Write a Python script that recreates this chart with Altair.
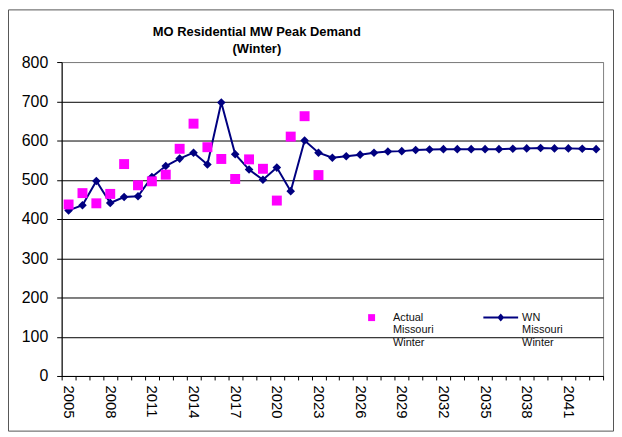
import altair as alt
import pandas as pd

# ---------------- data ----------------
years = [2005, 2006, 2007, 2008, 2009, 2010, 2011, 2012, 2013, 2014,
         2015, 2016, 2017, 2018, 2019, 2020, 2021, 2022, 2023, 2024,
         2025, 2026, 2027, 2028, 2029, 2030, 2031, 2032, 2033, 2034,
         2035, 2036, 2037, 2038, 2039, 2040, 2041, 2042, 2043]

actual_years = [2005, 2006, 2007, 2008, 2009, 2010, 2011, 2012, 2013, 2014,
                2015, 2016, 2017, 2018, 2019, 2020, 2021, 2022, 2023]
actual_values = [437, 466, 440, 464, 540, 486, 496, 513, 579, 643,
                 583, 553, 502, 552, 528, 447, 610, 662, 512]

wn_values = [422, 435, 497, 441, 456, 458, 507, 535, 554, 569,
             539, 697, 565, 526, 500, 531, 471, 600, 569, 556,
             560, 564, 569, 572, 573, 576, 577, 578, 578, 578,
             578, 578, 579, 580, 581, 580, 580, 579, 578]

series_names = ["Actual Missouri Winter", "WN Missouri Winter"]
title_lines = ["MO Residential MW Peak Demand", "(Winter)"]
y_ticks = [0, 100, 200, 300, 400, 500, 600, 700, 800]

df_actual = pd.DataFrame({"year": actual_years, "value": actual_values,
                          "series": series_names[0]})
df_wn = pd.DataFrame({"year": years, "value": wn_values,
                      "series": series_names[1]})
df_all = pd.concat([df_actual, df_wn], ignore_index=True)

FONT = "Liberation Sans"
MAGENTA = "#FF00FF"
NAVY = "#000080"

x_enc = alt.X(
    "year:O",
    sort=years,
    scale=alt.Scale(type="band", domain=years, paddingInner=0, paddingOuter=0),
    axis=alt.Axis(
        title=None, labelAngle=90, labelFontSize=15, labelFont=FONT,
        labelColor="black", labelPadding=5, labelOverlap=False,
        labelExpr="(datum.value - 2005) % 3 == 0 ? datum.label : ''",
        tickBand="extent", tickSize=4, tickColor="black",
        domainColor="black", grid=False,
    ),
)
y_enc = alt.Y(
    "value:Q",
    scale=alt.Scale(domain=[0, 800], nice=False),
    axis=alt.Axis(
        title=None, values=y_ticks, grid=True,
        gridColor={"condition": {"test": "datum.value == 800", "value": "#808080"},
                   "value": "black"},
        gridWidth=1, tickSize=5, tickColor="black", domainColor="black",
        labelFontSize=16, labelFont=FONT, labelColor="black", labelPadding=9,
    ),
)

# legend symbols (custom paths)
sq_path = "M-0.2,-0.2L0.2,-0.2L0.2,0.2L-0.2,0.2Z"
wn_path = ("M-1,-0.057L1,-0.057L1,0.057L-1,0.057Z"
           "M0,-0.23L0.2,0L0,0.23L-0.2,0Z")

frame = alt.Chart(alt.Data(values=[{"f": 1}])).mark_rect(
    fill=None, stroke="#555555", strokeWidth=1
).encode(
    x=alt.value(-53.5), x2=alt.value(555.5),
    y=alt.value(-52.5), y2=alt.value(371.5),
)

wn_line = alt.Chart(df_wn).mark_line(color=NAVY, strokeWidth=2).encode(
    x=x_enc, y=y_enc
)
wn_pts = alt.Chart(df_wn).mark_point(
    shape="diamond", filled=True, size=75, color=NAVY, opacity=1
).encode(x=x_enc, y=y_enc)
act_pts = alt.Chart(df_actual).mark_point(
    shape="square", filled=True, size=100, color=MAGENTA, opacity=1
).encode(x=x_enc, y=y_enc)

legend_spec = dict(
    title=None, orient="none", legendX=294.5, legendY=239.5,
    direction="horizontal", columns=2, columnPadding=50,
    labelExpr="split(datum.label, ' ')", labelFontSize=11,
    labelFont=FONT, labelColor="#111111", labelOffset=4,
    symbolOpacity=1, symbolSize=1225, symbolStrokeWidth=0,
    padding=0, labelLimit=0,
)

legend_layer = alt.Chart(df_all).mark_point(
    filled=True, opacity=0, size=1225
).encode(
    x=x_enc, y=y_enc,
    fill=alt.Fill(
        "series:N",
        scale=alt.Scale(domain=series_names, range=[MAGENTA, NAVY]),
        legend=alt.Legend(**legend_spec),
    ),
    shape=alt.Shape(
        "series:N",
        scale=alt.Scale(domain=series_names, range=[sq_path, wn_path]),
        legend=alt.Legend(**legend_spec),
    ),
)

chart = alt.layer(frame, wn_line, wn_pts, act_pts, legend_layer).properties(
    width=545,
    height=316,
    autosize=alt.AutoSizeParams(type="none"),
    padding={"left": 54, "top": 53, "right": 11, "bottom": 57},
    title=alt.TitleParams(
        text=title_lines, font=FONT, fontSize=13, fontWeight="bold",
        color="black", anchor="middle", dx=-76, dy=53, lineHeight=17, offset=6,
    ),
    background="white",
).configure_view(stroke="#808080", strokeWidth=1)

chart.save("out.html", embed_options={"renderer": "svg", "actions": False})
